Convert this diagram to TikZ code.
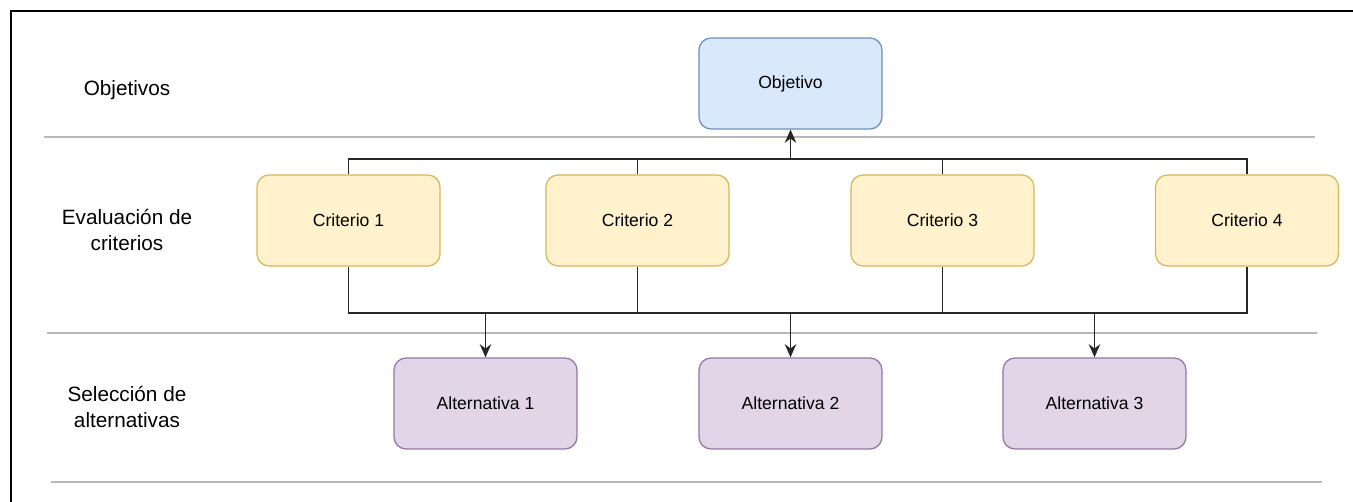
\documentclass[tikz,border=0pt]{standalone}
\usepackage{fontspec}
\setmainfont{Liberation Sans}
\usetikzlibrary{arrows.meta}
\definecolor{objfill}{HTML}{DAE8FC}
\definecolor{objline}{HTML}{6C8EBF}
\definecolor{critfill}{HTML}{FFF2CC}
\definecolor{critline}{HTML}{D6B656}
\definecolor{altfill}{HTML}{E1D5E7}
\definecolor{altline}{HTML}{9673A6}
\definecolor{sepgray}{HTML}{B8B8B8}
\begin{document}
\begin{tikzpicture}[x=0.02cm,y=-0.02cm,
	box/.style={rounded corners=0.24cm,minimum width=3.66cm,minimum height=1.82cm,inner sep=0pt,line width=0.7pt,font=\fontsize{10}{12}\selectfont},
	objbox/.style={box,fill=objfill,draw=objline},
	critbox/.style={box,fill=critfill,draw=critline},
	altbox/.style={box,fill=altfill,draw=altline},
	rowlabel/.style={align=center,font=\fontsize{11.8}{15.3}\selectfont},
	conn/.style={line width=1.1pt,draw=black!85},
	tip/.style={-{Stealth[length=7.5pt,width=6.5pt]}},
	sep/.style={line width=0.7pt,draw=sepgray}]
	\useasboundingbox (0,0) rectangle (1353,502);
	% frame
	\draw[line width=1.2pt] (11,502) -- (11,11) -- (1353,11);
	% rows
	\draw[sep] (44,137) -- (1315,137);
	\draw[sep] (47,333) -- (1317,333);
	\draw[sep] (51,482) -- (1322,482);
	\node[rowlabel] (lobj) at (127,90) {Objetivos};
	\node[rowlabel] (lcrit) at (127,230) {Evaluación de\\criterios};
	\node[rowlabel] (lalt) at (127,407) {Selección de\\alternativas};
	% boxes
	\node[objbox] (obj) at (790.5,83.5) {Objetivo};
	\node[critbox] (c1) at (348.5,220.5) {Criterio 1};
	\node[critbox] (c2) at (637.5,220.5) {Criterio 2};
	\node[critbox] (c3) at (942.5,220.5) {Criterio 3};
	\node[critbox] (c4) at (1247,220.5) {Criterio 4};
	\node[altbox] (a1) at (485.5,403.5) {Alternativa 1};
	\node[altbox] (a2) at (790.5,403.5) {Alternativa 2};
	\node[altbox] (a3) at (1094.5,403.5) {Alternativa 3};
	% connectors
	\coordinate (topbus) at (790.5,159);
	\coordinate (botbus) at (790.5,313);
	\draw[conn] (c1.north) |- (topbus) -| (c4.north);
	\draw[conn] (c2.north) -- (c2.north |- topbus);
	\draw[conn] (c3.north) -- (c3.north |- topbus);
	\draw[conn,tip] (topbus) -- (obj.south);
	\draw[conn] (c1.south) |- (botbus) -| (c4.south);
	\draw[conn] (c2.south) -- (c2.south |- botbus);
	\draw[conn] (c3.south) -- (c3.south |- botbus);
	\foreach \a in {a1,a2,a3}
		\draw[conn,tip] (\a.north |- botbus) -- (\a.north);
\end{tikzpicture}
\end{document}
